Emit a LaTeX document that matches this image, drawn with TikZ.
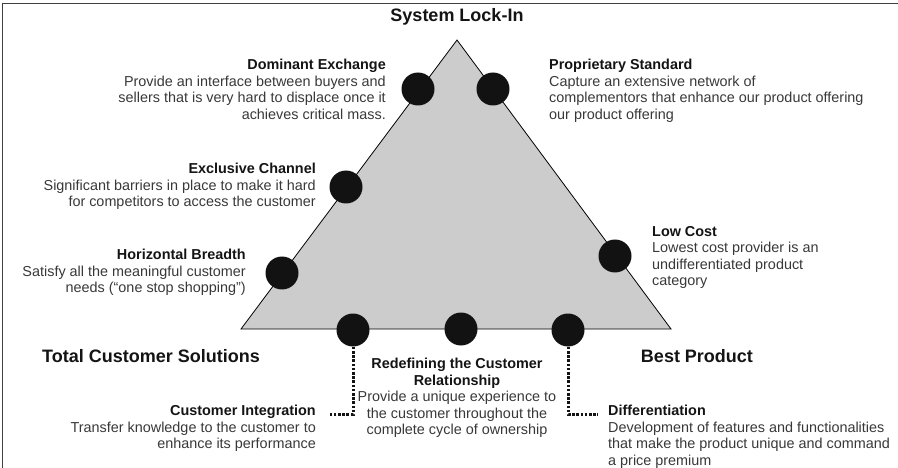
\documentclass[tikz,border=0pt]{standalone}
\usepackage{fontspec}
\setmainfont{Liberation Sans}
\begin{document}
\begin{tikzpicture}[x=1pt,y=-1pt,
	dot/.style={circle,fill=black!93,minimum size=33pt,inner sep=0pt},
	corner/.style={font=\fontsize{18}{21}\selectfont\bfseries,text=black!92,inner sep=0pt},
	txt/.style={font=\fontsize{14.4}{16.5}\selectfont,text=black!78,inner sep=0pt},
	link/.style={line width=3pt,dash pattern=on 2.6pt off 1.6pt,black!92}]
				\useasboundingbox (0,0) rectangle (898,468);
				\draw [line width=1.6pt,black!75] (2.5,468) -- (2.5,3.5) -- (898,3.5);
				% triangle
				\coordinate (top) at (457,40);
				\coordinate (left) at (241,329);
				\coordinate (right) at (671,329);
				\draw [fill=black!20,line width=0.8pt] (top) -- (left) -- (right) -- cycle;
				% points on the triangle
				\node [dot] (dominant) at (418,89) {};
				\node [dot] (proprietary) at (493,89) {};
				\node [dot] (exclusive) at (346,187) {};
				\node [dot] (horizontal) at (282,273) {};
				\node [dot] (lowcost) at (615,256) {};
				\node [dot] (integration) at (353,330) {};
				\node [dot] (redefining) at (461,329) {};
				\node [dot] (differentiation) at (568,330) {};
				% corners
				\node [corner] (lockin) at (457,17) {System Lock-In};
				\node [corner] (total) at (151,356) {Total Customer Solutions};
				\node [corner] (best) at (697,356) {Best Product};
				% descriptions
				\node [txt,align=right,anchor=north east] (dominanttext) at (386,59)
					{\textcolor{black!92}{\bfseries Dominant Exchange}\\Provide an interface between buyers and\\sellers that is very hard to displace once it\\achieves critical mass.};
				\node [txt,align=left,anchor=north west] (proprietarytext) at (549,59)
					{\textcolor{black!92}{\bfseries Proprietary Standard}\\Capture an extensive network of\\complementors that enhance our product offering\\our product offering};
				\node [txt,align=right,anchor=north east] (exclusivetext) at (316,163)
					{\textcolor{black!92}{\bfseries Exclusive Channel}\\Significant barriers in place to make it hard\\for competitors to access the customer};
				\node [txt,align=right,anchor=north east] (horizontaltext) at (246,249)
					{\textcolor{black!92}{\bfseries Horizontal Breadth}\\Satisfy all the meaningful customer\\needs (“one stop shopping”)};
				\node [txt,align=left,anchor=north west] (lowcosttext) at (652,226)
					{\textcolor{black!92}{\bfseries Low Cost}\\Lowest cost provider is an\\undifferentiated product\\category};
				\node [txt,align=center,anchor=north] (redefiningtext) at (457,358)
					{\textcolor{black!92}{\bfseries Redefining the Customer}\\\textcolor{black!92}{\bfseries Relationship}\\Provide a unique experience to\\the customer throughout the\\complete cycle of ownership};
				\node [txt,align=right,anchor=north east] (integrationtext) at (316,405)
					{\textcolor{black!92}{\bfseries Customer Integration}\\Transfer knowledge to the customer to\\enhance its performance};
				\node [txt,align=left,anchor=north west] (differentiationtext) at (608,405)
					{\textcolor{black!92}{\bfseries Differentiation}\\Development of features and functionalities\\that make the product unique and command\\a price premium};
				% dotted links
				\coordinate (integrationend) at (329,414);
				\coordinate (differentiationend) at (598,414);
				\draw [link] (integration.south) |- (integrationend);
				\draw [link] (differentiation.south) |- (differentiationend);
			\end{tikzpicture}
\end{document}
